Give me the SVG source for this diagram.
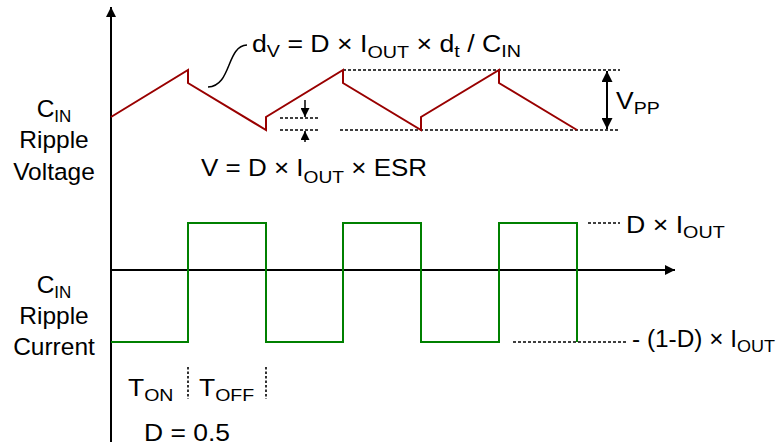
<svg xmlns="http://www.w3.org/2000/svg" width="783" height="447" viewBox="0 0 783 447">
<style>
text{font-family:"Liberation Sans",Arial,sans-serif;font-size:23px;fill:#000}
.lbl{font-size:24.5px;text-anchor:middle}
.sub{font-size:17px}
.axis{stroke:#000;stroke-width:2;fill:none}
.dot{stroke:#000;stroke-width:1.4;stroke-dasharray:3,2;fill:none}
.vdot{stroke:#000;stroke-width:1.6;stroke-dasharray:2.5,2;fill:none}
.vwave{stroke:#990000;stroke-width:2;fill:none}
.iwave{stroke:#008000;stroke-width:2;fill:none}
</style>
<defs>
<marker id="ah" viewBox="0 0 10 10" refX="10" refY="5" markerWidth="10" markerHeight="10" markerUnits="userSpaceOnUse" orient="auto">
<path d="M0,0 L10,5 L0,10 Z" fill="#000"/>
</marker>
<marker id="ahs" viewBox="0 0 10 10" refX="10" refY="5" markerWidth="9" markerHeight="9" markerUnits="userSpaceOnUse" orient="auto">
<path d="M0,0 L10,5 L0,10 Z" fill="#000"/>
</marker>
<marker id="ahsStart" viewBox="0 0 10 10" refX="10" refY="5" markerWidth="12" markerHeight="11" markerUnits="userSpaceOnUse" orient="auto-start-reverse">
<path d="M0,0 L10,5 L0,10 Z" fill="#000"/>
</marker>
</defs>
<g id="connectors">
<line class="axis" x1="111" y1="442" x2="111" y2="7" marker-end="url(#ah)"/>
<line class="axis" x1="111" y1="270" x2="675" y2="270" marker-end="url(#ah)"/>
<line class="dot" x1="343" y1="70" x2="620" y2="70"/>
<line class="dot" x1="340" y1="130" x2="620" y2="130"/>
<line class="dot" x1="280" y1="118" x2="318" y2="118"/>
<line class="dot" x1="280" y1="130" x2="318" y2="130"/>
<line stroke="#000" stroke-width="1.5" x1="305" y1="100" x2="305" y2="117" marker-end="url(#ahs)"/>
<line stroke="#000" stroke-width="1.5" x1="305" y1="142" x2="305" y2="131" marker-end="url(#ahs)"/>
<line stroke="#000" stroke-width="2" x1="607" y1="71" x2="607" y2="129" marker-start="url(#ahsStart)" marker-end="url(#ahsStart)"/>
<path d="M208,87 C232,86 226,46 247,45" stroke="#000" stroke-width="1.5" fill="none"/>
<line class="dot" x1="588" y1="223" x2="620" y2="223"/>
<line class="dot" x1="513" y1="342" x2="628" y2="342"/>
<line class="vdot" x1="188" y1="367" x2="188" y2="399"/>
<line class="vdot" x1="266" y1="367" x2="266" y2="399"/>
</g>
<g id="voltage-wave">
<path class="vwave" d="M111,117 L188,70 V83 L266,130 V117 L343,70 V83 L421,130 V117 L499,70 V83 L577,130"/>
</g>
<g id="current-wave">
<path class="iwave" d="M111,342 H188 V223 H266 V342 H343 V223 H421 V342 H499 V223 H577 V342"/>
</g>
<g id="label-voltage">
<text class="lbl" x="54" y="117">C<tspan class="sub" dy="5">IN</tspan></text>
<text class="lbl" x="54" y="148">Ripple</text>
<text class="lbl" x="54" y="180">Voltage</text>
</g>
<g id="label-current">
<text class="lbl" x="54" y="293">C<tspan class="sub" dy="5">IN</tspan></text>
<text class="lbl" x="54" y="324">Ripple</text>
<text class="lbl" x="54" y="355">Current</text>
</g>
<g id="eq-dv">
<text transform="translate(252,52) scale(1.16,1)">d<tspan class="sub" dy="5">V</tspan><tspan dy="-5"> = D × I</tspan><tspan class="sub" dy="6">OUT</tspan><tspan dy="-6"> × d</tspan><tspan class="sub" dy="5">t</tspan><tspan dy="-5"> / C</tspan><tspan class="sub" dy="5">IN</tspan></text>
</g>
<g id="eq-esr">
<text transform="translate(201,176) scale(1.13,1)">V = D × I<tspan class="sub" dy="7">OUT</tspan><tspan dy="-7"> × ESR</tspan></text>
</g>
<g id="vpp">
<text transform="translate(616,109) scale(1.15,1)">V<tspan class="sub" dy="5">PP</tspan></text>
</g>
<g id="d-iout">
<text transform="translate(626,233) scale(1.16,1)">D × I<tspan class="sub" dy="5">OUT</tspan></text>
</g>
<g id="neg-iout">
<text transform="translate(632,347) scale(1.06,1)">- (1-D) × I<tspan class="sub" dy="5">OUT</tspan></text>
</g>
<g id="ton">
<text transform="translate(128,396) scale(1.15,1)">T<tspan class="sub" dy="5">ON</tspan></text>
</g>
<g id="toff">
<text transform="translate(199,396) scale(1.15,1)">T<tspan class="sub" dy="5">OFF</tspan></text>
</g>
<g id="duty">
<text transform="translate(144,441) scale(1.15,1)">D = 0.5</text>
</g>
</svg>
